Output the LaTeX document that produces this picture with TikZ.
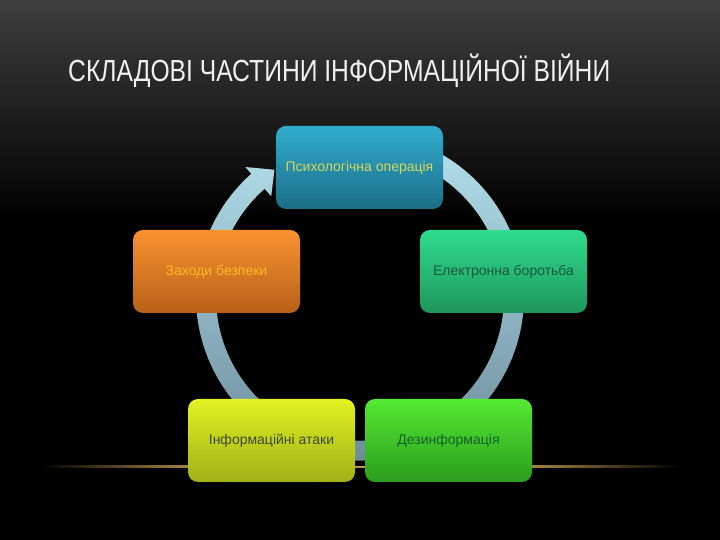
\documentclass[tikz,border=0pt]{standalone}
\usepackage{fontspec}
\usepackage{graphicx}
\setmainfont{Liberation Sans}
\definecolor{ringtop}{RGB}{178,222,234}
\definecolor{ringbot}{RGB}{105,135,150}
\definecolor{psyT}{RGB}{48,172,206}
\definecolor{psyB}{RGB}{28,110,134}
\definecolor{psyTx}{RGB}{214,214,92}
\definecolor{elT}{RGB}{48,220,142}
\definecolor{elB}{RGB}{30,150,92}
\definecolor{elTx}{RGB}{24,88,62}
\definecolor{deT}{RGB}{84,234,50}
\definecolor{deB}{RGB}{44,156,30}
\definecolor{deTx}{RGB}{24,96,46}
\definecolor{inT}{RGB}{226,242,34}
\definecolor{inB}{RGB}{160,176,24}
\definecolor{inTx}{RGB}{60,74,48}
\definecolor{zaT}{RGB}{250,146,48}
\definecolor{zaB}{RGB}{184,96,24}
\definecolor{zaTx}{RGB}{250,184,40}
\definecolor{bgtop}{RGB}{62,62,62}
\definecolor{glow}{RGB}{190,150,80}
\tikzset{
  stagebox/.style={rounded corners=10pt, minimum width=167pt, minimum height=83pt,
    inner sep=0pt, font=\fontsize{14}{16}\selectfont},
}
\begin{document}
\begin{tikzpicture}[x=1pt,y=1pt]
\useasboundingbox (0,0) rectangle (720,540);
\fill[black] (0,0) rectangle (720,540);
\shade[top color=bgtop, bottom color=black] (0,320) rectangle (720,540);
% title
\node[anchor=base west, inner sep=0pt, text=white!94!black] (title) at (68,458)
  {\resizebox{542pt}{\height}{\fontsize{30.5}{32}\selectfont СКЛАДОВІ ЧАСТИНИ ІНФОРМАЦІЙНОЇ ВІЙНИ}};
% ring with arrowhead
\begin{scope}[shift={(360,243.4)}]
\shade[top color=ringtop, bottom color=ringbot]
  (70:164pt) arc[start angle=70, end angle=-228.5, radius=164pt]
  -- (-228.5:173pt) -- (-236:153pt) -- (-228.5:134pt) -- (-228.5:144pt)
  arc[start angle=-228.5, end angle=70, radius=144pt] -- cycle;
\end{scope}
% glow line
\shade[left color=black, right color=glow] (40,72) rectangle (210,74);
\shade[left color=glow, right color=black] (510,72) rectangle (680,74);
\fill[glow] (210,72) rectangle (510,74);
% boxes
\node[stagebox, top color=psyT, bottom color=psyB, text=psyTx] (psych) at (359.5,372.5) {Психологічна операція};
\node[stagebox, top color=elT, bottom color=elB, text=elTx] (elect) at (503.5,268.5) {Електронна боротьба};
\node[stagebox, top color=deT, bottom color=deB, text=deTx] (dezin) at (448.5,99.5) {Дезинформація};
\node[stagebox, top color=inT, bottom color=inB, text=inTx] (inform) at (271.5,99.5) {Інформаційні атаки};
\node[stagebox, top color=zaT, bottom color=zaB, text=zaTx] (zakhody) at (216.5,268.5) {Заходи безпеки};
\end{tikzpicture}
\end{document}
